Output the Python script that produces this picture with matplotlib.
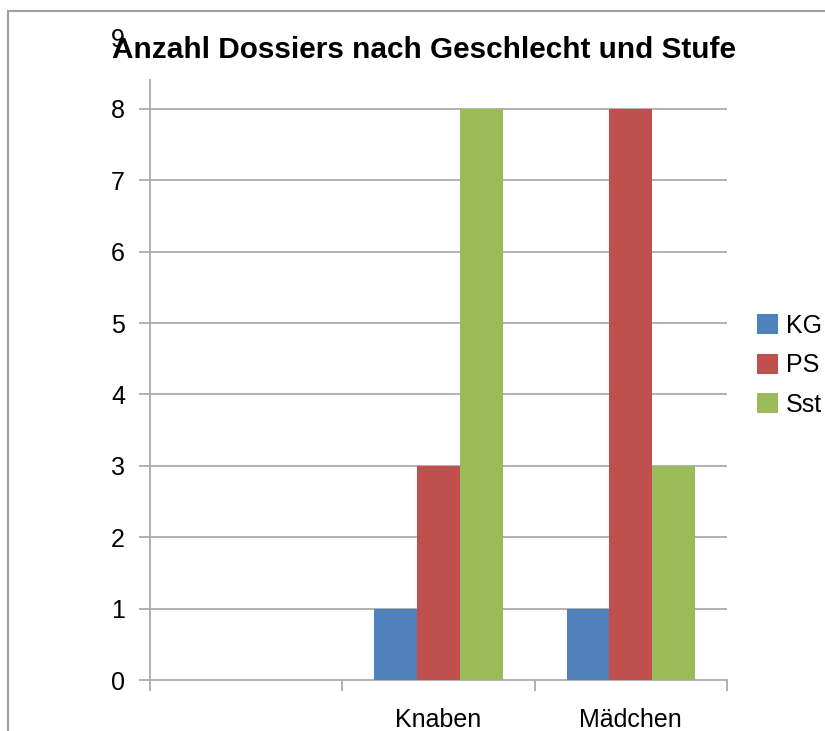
import numpy as np
import matplotlib.pyplot as plt
from matplotlib.patches import Rectangle

plt.rcParams['font.family'] = ['Liberation Sans', 'DejaVu Sans']

categories = ['', 'Knaben', 'Mädchen']
series = ['KG', 'PS', 'Sst']
kg = [0, 1, 1]
ps = [0, 3, 8]
sst = [0, 8, 3]
colors = ['#4F81BD', '#C0504D', '#9BBB59']
grid_col = '#ABABAB'

fig = plt.figure(figsize=(8.25, 7.31), dpi=100)
ax = fig.add_axes([150/825, 1-680/731, 577/825, (680-37.6)/731])

x = np.arange(len(categories))
w = 1/4.5
for i, (vals, c, lab) in enumerate(zip([kg, ps, sst], colors, series)):
    ax.bar(x + (i-1)*w, vals, w, color=c, label=lab, zorder=3)

ax.set_xlim(-0.5, 2.5)
ax.set_ylim(0, 9)
ax.set_yticks(range(10))
ax.set_xticks(x)
ax.set_xticklabels(categories, fontsize=18)
ax.set_xticks(np.arange(-0.5, 3, 1), minor=True)
ax.tick_params(axis='x', which='major', length=0, pad=20)
ax.tick_params(axis='x', which='minor', length=8, color=grid_col, width=1.3)
ax.tick_params(axis='y', length=8, color=grid_col, width=1.3, labelsize=18, pad=10)
# top tick mark is hidden behind the title in the original
ax.yaxis.get_major_ticks()[-1].tick1line.set_visible(False)

for yv in range(1, 9):
    ax.axhline(yv, color=grid_col, lw=1.3, zorder=1)
for s in ['top', 'right']:
    ax.spines[s].set_visible(False)
ax.spines['left'].set_color(grid_col)
ax.spines['bottom'].set_color(grid_col)
ax.spines['left'].set_linewidth(1.3)
ax.spines['bottom'].set_linewidth(1.3)
ax.spines['left'].set_bounds(0, 8.4)

fig.text(0.5145, 1-50/731, 'Anzahl Dossiers nach Geschlecht und Stufe',
         fontsize=21.4, fontweight='bold', ha='center', va='center')

ax.legend(loc='center left', bbox_to_anchor=(1.03, 0.49), frameon=False,
          fontsize=18, handlelength=0.85, handleheight=0.85, handletextpad=0.3,
          labelspacing=0.62, borderpad=0)

fig.add_artist(Rectangle((8/825, -0.1), 1.2, 1.1-11/731, transform=fig.transFigure,
                         fill=False, edgecolor='#A0A0A0', lw=1.5))

plt.savefig('out.png', dpi=100)
plt.close()
